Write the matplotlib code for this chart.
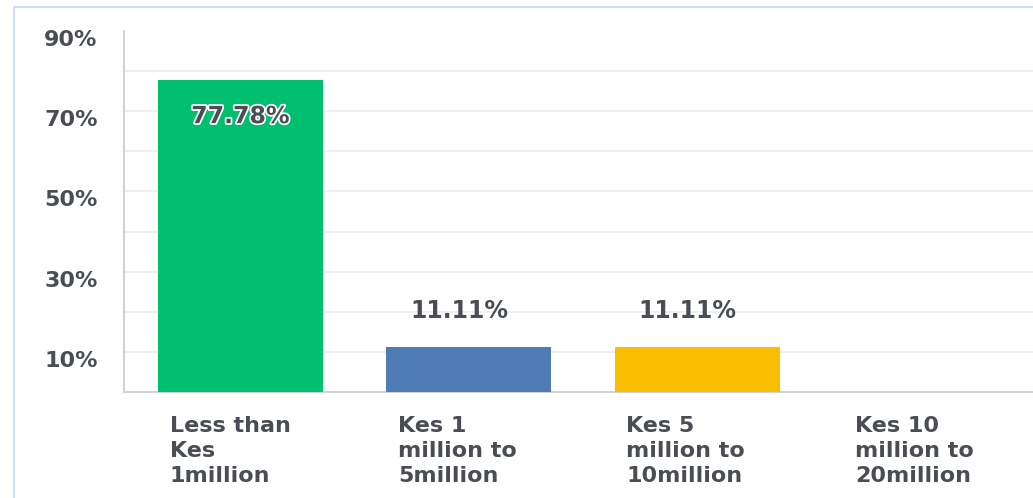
import matplotlib.pyplot as plt
import matplotlib.patheffects as pe
import matplotlib.transforms as mtransforms
from matplotlib.patches import Rectangle

# Data
categories = ["Less than\nKes\n1million",
              "Kes 1\nmillion to\n5million",
              "Kes 5\nmillion to\n10million",
              "Kes 10\nmillion to\n20million"]
values = [77.78, 11.11, 11.11, 0.0]
value_labels = ["77.78%", "11.11%", "11.11%", None]
colors = ["#00bf6f", "#507cb6", "#f9be00", "#cccccc"]
ytick_vals = [10, 30, 50, 70, 90]

text_color = "#4a4e54"
font = "DejaVu Sans"

fig = plt.figure(figsize=(10.33, 4.98), dpi=100)
ax = fig.add_axes([124 / 1033, 1 - 392 / 498, 1 - 124 / 1033, (392 - 31) / 498])

x = list(range(len(categories)))
bars = ax.bar(x, values, width=0.722, color=colors, zorder=3)

ax.set_xlim(-0.51, 3.47)
ax.set_ylim(0, 90)

# gridlines every 10%, labels only on odd tens
ax.set_yticks(range(10, 81, 10))
ax.set_yticklabels([f"{v}%" if v in ytick_vals else "" for v in range(10, 81, 10)],
                   fontsize=16, fontweight="bold", color=text_color, family=font)
ax.tick_params(axis="y", length=0, pad=19)
# labels sit a little below their gridlines in the reference
shift = mtransforms.ScaledTranslation(0, -7 / 100, fig.dpi_scale_trans)
for lbl in ax.get_yticklabels():
    lbl.set_transform(lbl.get_transform() + shift)
# top label (90%) without a gridline
ax.annotate("90%", (0, 90), xycoords=("axes fraction", "data"),
            xytext=(-19, -6.5), textcoords="offset points",
            ha="right", va="center", fontsize=16, fontweight="bold",
            color=text_color, family=font)

ax.grid(axis="y", color="#ececec", linewidth=1.2, zorder=0)
ax.set_xticks([])

for side in ["top", "right"]:
    ax.spines[side].set_visible(False)
ax.spines["left"].set_color("#d2d2d2")
ax.spines["left"].set_linewidth(1.5)
ax.spines["bottom"].set_color("#d2d2d2")
ax.spines["bottom"].set_linewidth(1.5)

# value labels
for i, (v, lab) in enumerate(zip(values, value_labels)):
    if lab is None:
        continue
    if v > 50:
        t = ax.annotate(lab, (i, v), xytext=(0, -26), textcoords="offset points",
                        ha="center", va="center", fontsize=17, fontweight="bold",
                        color=text_color, family=font, zorder=5)
        t.set_path_effects([pe.withStroke(linewidth=2.5, foreground="white")])
    else:
        ax.annotate(lab, (i, v), xytext=(-7, 26), textcoords="offset points",
                    ha="center", va="center", fontsize=17, fontweight="bold",
                    color=text_color, family=font, zorder=5)

# category labels, left aligned under each bar
for i, cat in enumerate(categories):
    ax.annotate(cat, (i - 0.31, 0), xycoords=("data", "axes fraction"),
                xytext=(0, -17), textcoords="offset points",
                ha="left", va="top", fontsize=16, fontweight="bold",
                color=text_color, family=font, linespacing=1.32)

# light blue panel border
fig.patches.append(Rectangle((14 / 1033, -0.1), 1.2, 1.1 - 7 / 498,
                             transform=fig.transFigure, fill=False,
                             edgecolor="#c8d7f1", linewidth=1.2))

fig.savefig("out.png", dpi=100)
